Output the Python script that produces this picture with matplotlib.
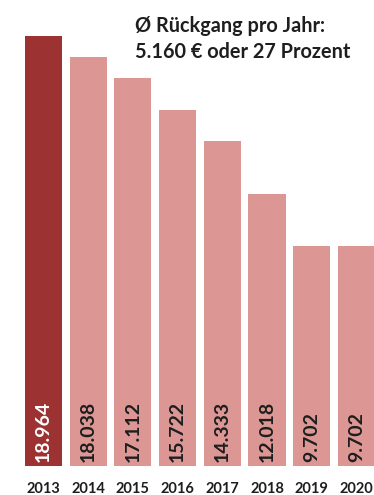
import matplotlib
matplotlib.use("Agg")
import matplotlib.pyplot as plt

years = ["2013", "2014", "2015", "2016", "2017", "2018", "2019", "2020"]
values = [18964, 18038, 17112, 15722, 14333, 12018, 9702, 9702]
labels = ["18.964", "18.038", "17.112", "15.722", "14.333", "12.018", "9.702", "9.702"]
title_lines = ["Ø Rückgang pro Jahr:", "5.160 € oder 27 Prozent"]

plt.rcParams['font.family'] = ['Lato', 'DejaVu Sans']

W, H = 374, 495
fig = plt.figure(figsize=(W / 100, H / 100), dpi=100)
fig.patch.set_facecolor("white")

base_px = 466
ax = fig.add_axes([0, (H - base_px) / H, 1, base_px / H])
ax.set_facecolor("none")

spacing = 44.7
c0 = 43.5
xmin = -c0 / spacing
xmax = (W - c0) / spacing
ax.set_xlim(xmin, xmax)
ax.set_ylim(0, base_px / 0.02267)

colors = ["#9c3232"] + ["#dc9795"] * (len(values) - 1)
xs = list(range(len(values)))
ax.bar(xs, values, width=0.83, color=colors, edgecolor="none")

for i, (x, lab) in enumerate(zip(xs, labels)):
    ax.annotate(lab, xy=(x, 0), xycoords="data", xytext=(0, 4),
                textcoords="offset pixels", rotation=90, ha="center", va="bottom",
                fontsize=14, fontweight="bold",
                color="white" if i == 0 else "#1e1e1e")

for x, y in zip(xs, years):
    ax.annotate(y, xy=(x, 0), xycoords="data", xytext=(0, -27),
                textcoords="offset pixels", ha="center", va="baseline",
                fontsize=10.5, fontweight="bold", color="#1e1e1e")

fig.text(135 / W, 1 - 32 / H, title_lines[0], ha="left", va="baseline",
         fontsize=14.3, fontweight="bold", color="#1e1e1e")
fig.text(135 / W, 1 - 58 / H, title_lines[1], ha="left", va="baseline",
         fontsize=14.3, fontweight="bold", color="#1e1e1e")

ax.axis("off")
fig.savefig("out.png", dpi=100)
